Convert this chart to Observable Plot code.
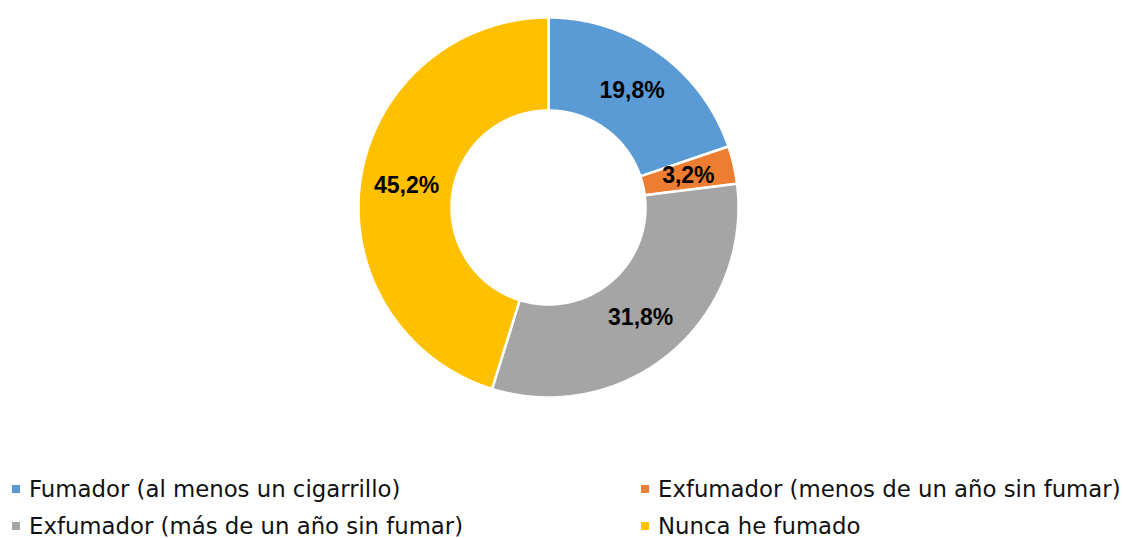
<!DOCTYPE html>
<html>
<head>
<meta charset="utf-8">
<script src="https://cdn.jsdelivr.net/npm/d3@7"></script>
<script src="https://cdn.jsdelivr.net/npm/@observablehq/plot@0.6"></script>
<style>
  html, body { margin: 0; padding: 0; background: #fff; }
  #wrap { position: relative; width: 1123px; height: 538px; overflow: hidden; }
  #chart { position: absolute; left: 0; top: 0; }
  .leg { position: absolute; display: flex; align-items: center; height: 34px;
         font-family: "DejaVu Sans", sans-serif; font-size: 22.8px; color: #111; white-space: nowrap; }
  .sw { width: 8px; height: 8px; margin-right: 9px; flex: none; }
</style>
</head>
<body>
<div id="wrap">
  <div id="chart"></div>
</div>
<script>
const categories = [
  "Fumador (al menos un cigarrillo)",
  "Exfumador (menos de un año sin fumar)",
  "Exfumador (más de un año sin fumar)",
  "Nunca he fumado"
];
const values = [19.8, 3.2, 31.8, 45.2];
const valueLabels = ["19,8%", "3,2%", "31,8%", "45,2%"];
const colors = ["#5B9BD5", "#ED7D31", "#A5A5A5", "#FFC000"];

// geometry (in chart units = pixels)
const W = 1123, H = 420, CX = 548, CY = 207;
const R_OUT = 190, R_IN = 97;
const total = d3.sum(values);

const polys = [];
const labelData = [];
let acc = 0;
categories.forEach((cat, i) => {
  const a0 = acc / total * 2 * Math.PI;
  acc += values[i];
  const a1 = acc / total * 2 * Math.PI;
  const n = Math.max(4, Math.ceil((a1 - a0) / (Math.PI / 360)));
  const pts = [];
  for (let k = 0; k <= n; k++) {
    const a = a0 + (a1 - a0) * k / n;
    pts.push({cat, x: R_OUT * Math.sin(a), y: R_OUT * Math.cos(a)});
  }
  for (let k = n; k >= 0; k--) {
    const a = a0 + (a1 - a0) * k / n;
    pts.push({cat, x: R_IN * Math.sin(a), y: R_IN * Math.cos(a)});
  }
  pts.push({...pts[0]});
  polys.push(...pts);
  const am = (a0 + a1) / 2, rm = (R_OUT + R_IN) / 2;
  labelData.push({cat, label: valueLabels[i], x: rm * Math.sin(am), y: rm * Math.cos(am)});
});

const chart = Plot.plot({
  width: W,
  height: H,
  margin: 0,
  x: {domain: [-CX, W - CX], axis: null},
  y: {domain: [-(H - CY), CY], axis: null},
  color: {type: "ordinal", domain: categories, range: colors},
  marks: [
    Plot.line(polys, {x: "x", y: "y", z: "cat", fill: "cat", stroke: "white", strokeWidth: 2.5, curve: "linear"}),
    Plot.text(labelData, {x: "x", y: "y", text: "label", fill: "black", fontWeight: "bold",
      fontSize: 23, fontFamily: "Liberation Sans, Arial, sans-serif"})
  ]
});
document.getElementById("chart").appendChild(chart);

// legend
const legPos = [
  {left: 12, top: 472},
  {left: 641, top: 472},
  {left: 12, top: 509},
  {left: 641, top: 509}
];
const wrap = document.getElementById("wrap");
categories.forEach((cat, i) => {
  const d = document.createElement("div");
  d.className = "leg";
  d.style.left = legPos[i].left + "px";
  d.style.top = legPos[i].top + "px";
  const s = document.createElement("span");
  s.className = "sw";
  s.style.background = colors[i];
  const t = document.createElement("span");
  t.textContent = cat;
  d.appendChild(s); d.appendChild(t);
  wrap.appendChild(d);
});
</script>
</body>
</html>
